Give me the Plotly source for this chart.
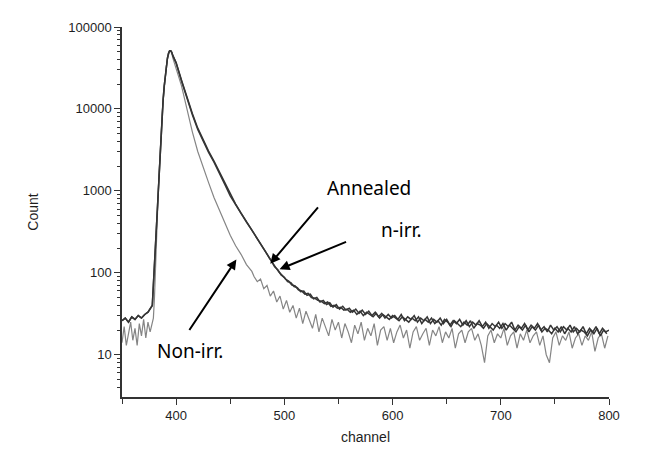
import plotly.graph_objects as go

# Спектры (counts vs channel)

# общий фон до подъёма
base_irr = [26, 28, 25, 29, 27, 30, 28, 31, 33, 38]              # 350..377 шаг 3
base_non = [14, 22, 13, 19, 25, 15, 21, 13, 24, 17, 27, 16, 25, 19, 26]  # 350..378 шаг 2

# подъём и пик, шаг 1
rise_irr = [40, 71, 126, 251, 501, 955, 1700, 3020, 5250, 8510, 12900, 19000,
            26300, 33900, 41700, 47900, 51300, 51300, 49000, 44700]       # 378..397
rise_non = [28, 50, 100, 251, 631, 1410, 2820, 5010, 8320, 12600, 18200, 25100,
            33100, 40700, 46800, 51300, 51300, 47900, 41700]              # 379..397

# спад, шаг 5 (400..470)
decay_irr = [36300, 21900, 13500, 8510, 5620, 3980, 2950, 2240, 1660, 1200,
             870, 676, 525, 417, 331]
decay_ann = [36800, 22400, 13900, 8800, 5820, 4120, 3050, 2310, 1710, 1240,
             895, 690, 535, 423, 335]
decay_non = [31600, 19100, 10000, 5250, 3020, 1910, 1260, 832, 575, 398,
             288, 214, 168, 126, 104]

# хвосты, шаг 3
tail_irr = [288, 250, 216, 190, 160, 140, 118, 109, 94, 88, 78, 76, 68, 66, 59, 60,
            53, 55, 48, 50, 44, 46, 41, 43, 38, 41, 36, 39, 35, 37, 33, 36, 32, 35,
            31, 34, 30, 33, 29, 32, 28, 31, 28, 30, 27, 31, 26, 29, 27, 30, 25, 28,
            26, 29, 24, 27, 25, 28, 24, 27, 23, 26, 24, 27, 23, 26, 22, 25, 23, 26,
            22, 25, 21, 24, 22, 25, 21, 24, 22, 25, 20, 23, 21, 24, 20, 23, 21, 24,
            20, 22, 19, 23, 20, 22, 19, 22, 20, 23, 19, 21, 19, 22, 18, 21, 19, 22,
            18, 21, 19, 20]                                                 # с 473
tail_ann = [270, 238, 205, 178, 152, 133, 116, 102, 93, 84, 79, 71, 69, 62, 60, 55,
            56, 50, 49, 46, 45, 42, 44, 39, 40, 37, 38, 35, 36, 33, 35, 31, 34, 30,
            33, 31, 29, 32, 28, 31, 29, 27, 30, 28, 26, 29, 27, 25, 28, 26, 29, 24,
            27, 25, 28, 24, 26, 23, 27, 25, 22, 26, 24, 22, 25, 23, 26, 21, 24, 23,
            21, 24, 22, 20, 23, 21, 24, 20, 23, 21, 19, 22, 20, 23, 19, 22, 20, 23,
            19, 21, 20, 18, 21, 19, 22, 18, 21, 19, 22, 18, 20, 19, 17, 20, 18, 21,
            17, 20, 18]                                                     # с 474
tail_non = [90, 78, 84, 64, 70, 52, 60, 44, 52, 36, 46, 33, 40, 28, 37, 24, 34, 26,
            21, 31, 19, 28, 22, 17, 27, 20, 25, 16, 24, 19, 14, 23, 18, 25, 15, 21,
            17, 24, 13, 20, 22, 15, 21, 14, 19, 23, 16, 20, 12, 19, 22, 15, 18, 21,
            13, 20, 17, 22, 14, 19, 16, 21, 12, 18, 20, 14, 19, 21, 15, 18, 13, 8,
            17, 20, 14, 18, 16, 21, 13, 17, 19, 12, 18, 15, 20, 14, 17, 19, 13, 17,
            10, 8, 16, 19, 13, 17, 15, 19, 12, 16, 18, 13, 17, 15, 19, 11, 16, 18,
            12, 17]                                                         # с 472


def chans(start, step, vals):
    return list(range(start, start + step * len(vals), step))


x_irr = chans(350, 3, base_irr) + chans(378, 1, rise_irr) + chans(400, 5, decay_irr) + chans(473, 3, tail_irr)
y_irr = base_irr + rise_irr + decay_irr + tail_irr
x_ann = chans(350, 3, base_irr) + chans(378, 1, rise_irr) + chans(400, 5, decay_ann) + chans(474, 3, tail_ann)
y_ann = base_irr + rise_irr + decay_ann + tail_ann
x_non = chans(350, 2, base_non) + chans(379, 1, rise_non) + chans(400, 5, decay_non) + chans(472, 3, tail_non)
y_non = base_non + rise_non + decay_non + tail_non

fig = go.Figure()
fig.add_trace(go.Scatter(x=x_non, y=y_non, mode='lines', name='Non-irr.',
                         line=dict(color='#858585', width=1.2)))
fig.add_trace(go.Scatter(x=x_ann, y=y_ann, mode='lines', name='Annealed',
                         line=dict(color='#353535', width=1.5)))
fig.add_trace(go.Scatter(x=x_irr, y=y_irr, mode='lines', name='n-irr.',
                         line=dict(color='#353535', width=1.5)))

decades = [10, 100, 1000, 10000, 100000]
minor_y = [m * d for d in [1, 10, 100, 1000, 10000] for m in range(2, 10) if m * d >= 3]

axis_font = dict(family='Liberation Sans, Arial, sans-serif', size=13, color='#1e1e1e')

# страница имеет отступ 8px, поэтому фигура чуть меньше окна
fig.update_layout(
    width=640, height=447,
    margin=dict(l=114, r=39, t=14, b=57),
    paper_bgcolor='white', plot_bgcolor='white',
    showlegend=False,
    font=axis_font,
    xaxis=dict(range=[350, 800], tickvals=[400, 500, 600, 700, 800],
               ticks='outside', ticklen=6, tickwidth=1.3, tickcolor='#333',
               showline=True, linecolor='#333', linewidth=1.5, showgrid=False,
               zeroline=False,
               minor=dict(tickvals=[350, 450, 550, 650, 750], ticks='outside',
                          ticklen=5, tickwidth=1.3, tickcolor='#333'),
               title=dict(text='channel', font=dict(size=14), standoff=10)),
    yaxis=dict(type='log', range=[0.484, 5], tickvals=decades,
               ticktext=[str(d) for d in decades],
               ticks='outside', ticklen=6, tickwidth=1.3, tickcolor='#333',
               showline=True, linecolor='#333', linewidth=1.5, showgrid=False,
               zeroline=False,
               minor=dict(tickvals=minor_y, ticks='outside', ticklen=3,
                          tickwidth=1, tickcolor='#333'),
               title=dict(text='Count', font=dict(size=14), standoff=26)),
)

label_font = dict(family='Noto Sans, sans-serif', size=19, color='black')

# подписи кривых и стрелки
fig.add_annotation(x=487, y=2.11, ax=49, ay=-58, text='', showarrow=True,
                   arrowhead=2, arrowsize=1, arrowwidth=2, arrowcolor='black')
fig.add_annotation(x=495.6, y=2.043, ax=68, ay=-28, text='', showarrow=True,
                   arrowhead=2, arrowsize=1, arrowwidth=2, arrowcolor='black')
fig.add_annotation(x=455.7, y=2.163, ax=-48, ay=72, text='', showarrow=True,
                   arrowhead=2, arrowsize=1, arrowwidth=2, arrowcolor='black')

fig.add_annotation(x=578, y=3.03, text='Annealed', showarrow=False, font=label_font)
fig.add_annotation(x=608, y=2.52, text='n-irr.', showarrow=False, font=label_font)
fig.add_annotation(x=412.7, y=1.04, text='Non-irr.', showarrow=False, font=label_font)

fig.write_html("out.html")
